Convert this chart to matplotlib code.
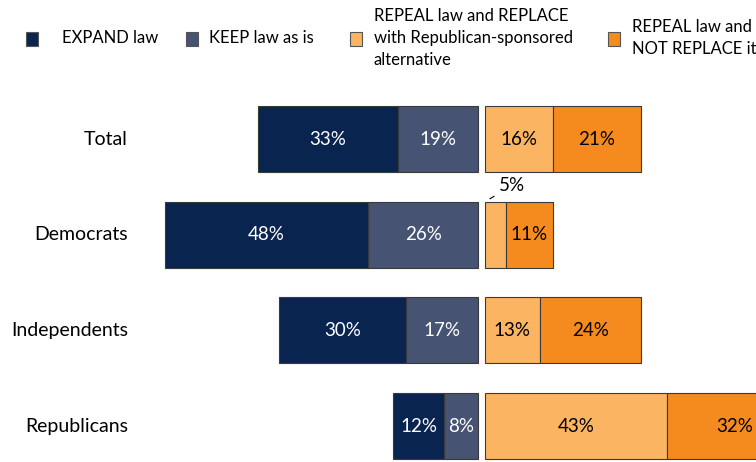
import matplotlib
matplotlib.use("Agg")
import matplotlib.pyplot as plt
from matplotlib.patches import Rectangle

plt.rcParams['font.family'] = ['Lato', 'DejaVu Sans']

groups = ["Total", "Democrats", "Independents", "Republicans"]
expand = [33, 48, 30, 12]
keep = [19, 26, 17, 8]
repeal_replace = [16, 5, 13, 43]
repeal_only = [21, 11, 24, 32]

series_names = ["EXPAND law", "KEEP law as is",
                "REPEAL law and REPLACE\nwith Republican-sponsored\nalternative",
                "REPEAL law and\nNOT REPLACE it"]
colors = ["#0a2450", "#465372", "#fbb462", "#f58a1f"]
text_colors = ["white", "white", "black", "black"]

GAP = 0.8          # half gap between left and right halves (percent units)
BAR_H = 0.69
EDGE = "#3a3a3a"

fig = plt.figure(figsize=(7.56, 4.62), dpi=100)
ax = fig.add_axes([0, 0, 1, 1])
ax.set_xlim(-113.8, 64.9)
ax.set_ylim(3.376, -1.453)
ax.axis("off")

ypos = list(range(len(groups)))

# left side: KEEP next to centre, EXPAND beyond it
left_keep = [-GAP - k for k in keep]
ax.barh(ypos, keep, left=left_keep, height=BAR_H, color=colors[1], edgecolor=EDGE, linewidth=0.8)
left_exp = [l - e for l, e in zip(left_keep, expand)]
ax.barh(ypos, expand, left=left_exp, height=BAR_H, color=colors[0], edgecolor=EDGE, linewidth=0.8)

# right side
ax.barh(ypos, repeal_replace, left=GAP, height=BAR_H, color=colors[2], edgecolor=EDGE, linewidth=0.8)
left_rep = [GAP + r for r in repeal_replace]
ax.barh(ypos, repeal_only, left=left_rep, height=BAR_H, color=colors[3], edgecolor=EDGE, linewidth=0.8)

FS = 13.5
for i in ypos:
    ax.text(left_exp[i] + expand[i] / 2, i, f"{expand[i]}%", ha="center", va="center",
            color=text_colors[0], fontsize=FS)
    ax.text(left_keep[i] + keep[i] / 2, i, f"{keep[i]}%", ha="center", va="center",
            color=text_colors[1], fontsize=FS)
    if repeal_replace[i] >= 8:
        ax.text(GAP + repeal_replace[i] / 2, i, f"{repeal_replace[i]}%", ha="center", va="center",
                color=text_colors[2], fontsize=FS)
    else:
        # small segment: label above with leader line
        ax.annotate(f"{repeal_replace[i]}%", xy=(GAP + 1.2, i - BAR_H / 2 - 0.03),
                    xytext=(GAP + 6.5, i - BAR_H / 2 - 0.17), ha="center", va="center",
                    fontsize=FS, color="black",
                    arrowprops=dict(arrowstyle="-", color="black", lw=0.8,
                                    shrinkA=2, shrinkB=0))
    ax.text(left_rep[i] + repeal_only[i] / 2, i, f"{repeal_only[i]}%", ha="center", va="center",
            color=text_colors[3], fontsize=FS)

# category labels
for i, g in enumerate(groups):
    fig.text(128 / 756, 1 - (139 + 95.67 * i) / 462, g, ha="right", va="center", fontsize=14)

# legend drawn by hand
legend_x = [26, 186, 350, 608]
text_x = [62, 209, 374, 632]
for k in range(4):
    fig.add_artist(Rectangle((legend_x[k] / 756, 1 - 46 / 462), 12 / 756, 14 / 462,
                             transform=fig.transFigure, facecolor=colors[k],
                             edgecolor="#555555", linewidth=0.8))
    fig.text(text_x[k] / 756, 1 - 38 / 462, series_names[k], ha="left", va="center",
             fontsize=12, linespacing=1.45)

fig.savefig("out.png", dpi=100)
